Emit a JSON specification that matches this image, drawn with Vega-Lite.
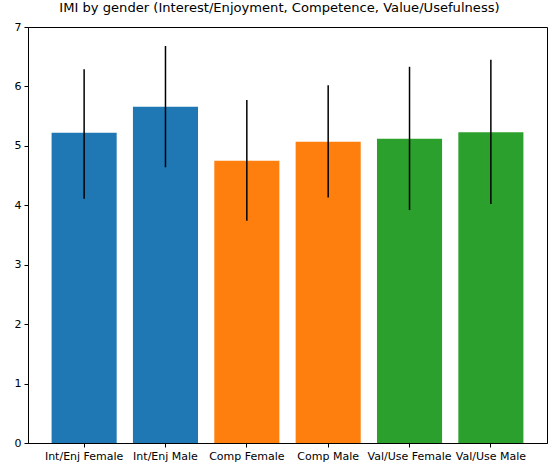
{
  "$schema": "https://vega.github.io/schema/vega-lite/v6.json",
  "width": 519,
  "height": 416,
  "autosize": {"type": "none"},
  "padding": {"left": 28, "top": 27, "right": 1, "bottom": 20},
  "background": "white",
  "title": {"text": "IMI by gender (Interest/Enjoyment, Competence, Value/Usefulness)", "font": "DejaVu Sans", "fontSize": 13.1, "fontWeight": "normal", "color": "black", "offset": 6, "anchor": "middle", "dx": -8},
  "config": {"view": {"stroke": "black", "strokeWidth": 1}},
  "data": {"values": [
    {"label": "Int/Enj Female", "group": "Int/Enj", "mean": 5.22, "lo": 4.11, "hi": 6.29},
    {"label": "Int/Enj Male", "group": "Int/Enj", "mean": 5.66, "lo": 4.64, "hi": 6.68},
    {"label": "Comp Female", "group": "Comp", "mean": 4.75, "lo": 3.74, "hi": 5.77},
    {"label": "Comp Male", "group": "Comp", "mean": 5.07, "lo": 4.13, "hi": 6.02},
    {"label": "Val/Use Female", "group": "Val/Use", "mean": 5.12, "lo": 3.92, "hi": 6.33},
    {"label": "Val/Use Male", "group": "Val/Use", "mean": 5.23, "lo": 4.02, "hi": 6.45}
  ]},
  "encoding": {
    "x": {"field": "label", "type": "nominal", "sort": null,
      "scale": {"paddingInner": 0.2, "paddingOuter": 0.29},
      "axis": {"title": null, "labelAngle": 0, "labelFont": "DejaVu Sans", "labelFontSize": 11, "labelColor": "black", "domainColor": "black", "tickColor": "black", "tickSize": 4, "labelPadding": 3}}
  },
  "layer": [
    {"mark": {"type": "bar"},
     "encoding": {
       "y": {"field": "mean", "type": "quantitative", "scale": {"domain": [0, 7], "nice": false},
         "axis": {"title": null, "values": [0,1,2,3,4,5,6,7], "format": "d", "grid": false, "labelFont": "DejaVu Sans", "labelFontSize": 11, "labelColor": "black", "domainColor": "black", "tickColor": "black", "tickSize": 4, "labelPadding": 3}},
       "color": {"field": "group", "type": "nominal", "legend": null,
         "scale": {"domain": ["Int/Enj", "Comp", "Val/Use"], "range": ["#1f77b4", "#ff7f0e", "#2ca02c"]}}
     }},
    {"mark": {"type": "rule", "color": "black", "strokeWidth": 1.5},
     "encoding": {"y": {"field": "lo", "type": "quantitative"}, "y2": {"field": "hi"}}}
  ]
}
